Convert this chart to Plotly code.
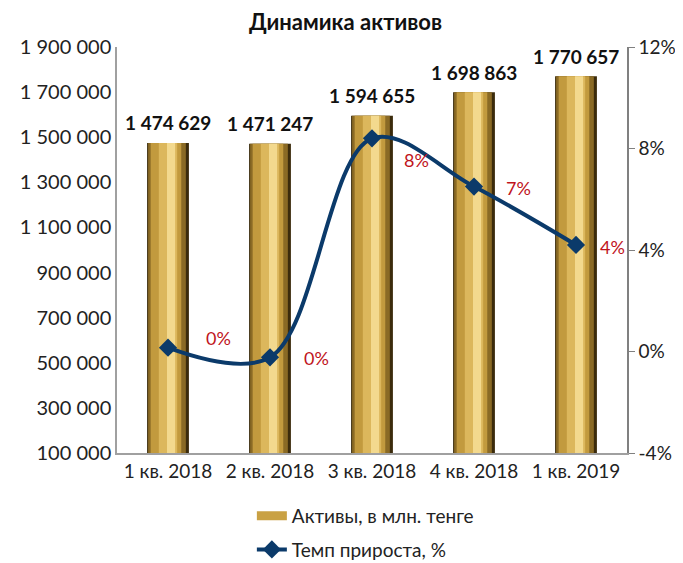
import plotly.graph_objects as go

categories = ["1 кв. 2018", "2 кв. 2018", "3 кв. 2018", "4 кв. 2018", "1 кв. 2019"]
assets = [1474629, 1471247, 1594655, 1698863, 1770657]
growth = [0.15, -0.23, 8.4, 6.5, 4.2]
growth_labels = ["0%", "0%", "8%", "7%", "4%"]
asset_labels = ["1 474 629", "1 471 247", "1 594 655", "1 698 863", "1 770 657"]
left_ticks = [100000, 300000, 500000, 700000, 900000, 1100000, 1300000, 1500000, 1700000, 1900000]
left_ticktext = ["100 000", "300 000", "500 000", "700 000", "900 000", "1 100 000",
                 "1 300 000", "1 500 000", "1 700 000", "1 900 000"]
right_ticks = [-4, 0, 4, 8, 12]
right_ticktext = ["-4%", "0%", "4%", "8%", "12%"]

FONT = "Lato"
LINE_COL = "#0b3a6a"
fig = go.Figure()

# layered bars to imitate the golden gradient
layers = [
    (0.41, 0.0, "#3b2b0c"),
    (0.37, -0.01, "#8a6a25"),
    (0.30, -0.02, "#c29a3e"),
    (0.18, 0.0, "#dcb75c"),
    (0.08, 0.03, "#f3d98e"),
]
for w, shift, col in layers:
    fig.add_trace(go.Bar(
        x=categories, y=assets, width=w, offset=-w / 2 + shift,
        marker=dict(color=col, line=dict(width=0)),
        name="Активы, в млн. тенге", showlegend=False,
    ))

# legend entry for the bars (wide golden swatch)
fig.add_trace(go.Scatter(
    x=[None], y=[None], mode="lines",
    line=dict(color="#c9a144", width=9),
    name="Активы, в млн. тенге", legendgroup="a",
))

fig.add_trace(go.Scatter(
    x=categories, y=growth, yaxis="y2", mode="lines+markers",
    line=dict(color=LINE_COL, width=4, shape="spline", smoothing=1.0),
    marker=dict(symbol="diamond", size=14, color=LINE_COL),
    name="Темп прироста, %", legendgroup="b",
))

# asset value labels
for c, v, t in zip(categories, assets, asset_labels):
    fig.add_annotation(x=c, y=v, xref="x", yref="y", text="<b>" + t + "</b>",
                       showarrow=False, yshift=20,
                       font=dict(family=FONT, size=19, color="#111111"))

# growth labels
shifts = [(50, 10), (46, -1), (44, -22), (44, -1), (36, -2)]
for c, g, t, (dx, dy) in zip(categories, growth, growth_labels, shifts):
    fig.add_annotation(x=c, y=g, xref="x", yref="y2", text=t, showarrow=False,
                       xshift=dx, yshift=dy,
                       font=dict(family=FONT, size=18, color="#c0141c"))

fig.update_layout(
    width=675, height=555,
    barmode="overlay",
    paper_bgcolor="white", plot_bgcolor="white",
    margin=dict(l=109, r=56, t=39, b=110, autoexpand=False),
    title=dict(text="<b>Динамика активов</b>", x=0.5, xanchor="center",
               y=0.975, yanchor="middle",
               font=dict(family=FONT, size=22, color="#111111")),
    font=dict(family=FONT, size=19, color="#222222"),
    xaxis=dict(type="category", showline=True, linecolor="#a0a0a0", linewidth=1.5,
               ticks="", showgrid=False, tickfont=dict(size=19), automargin=False),
    yaxis=dict(range=[100000, 1900000], tickvals=left_ticks, ticktext=left_ticktext,
               showline=True, linecolor="#a0a0a0", linewidth=1.5, showgrid=False,
               ticks="", zeroline=False, tickfont=dict(size=20), automargin=False),
    yaxis2=dict(range=[-4, 12], tickvals=right_ticks, ticktext=right_ticktext,
                overlaying="y", side="right", showline=True, linecolor="#808080",
                linewidth=1.5, ticks="outside", ticklen=6, tickcolor="#808080",
                showgrid=False, zeroline=False, tickfont=dict(size=19), automargin=False),
    legend=dict(orientation="v", x=0.487, xanchor="center", y=-0.108, yanchor="top",
                font=dict(size=19), tracegroupgap=6),
)

fig.write_html("out.html")
